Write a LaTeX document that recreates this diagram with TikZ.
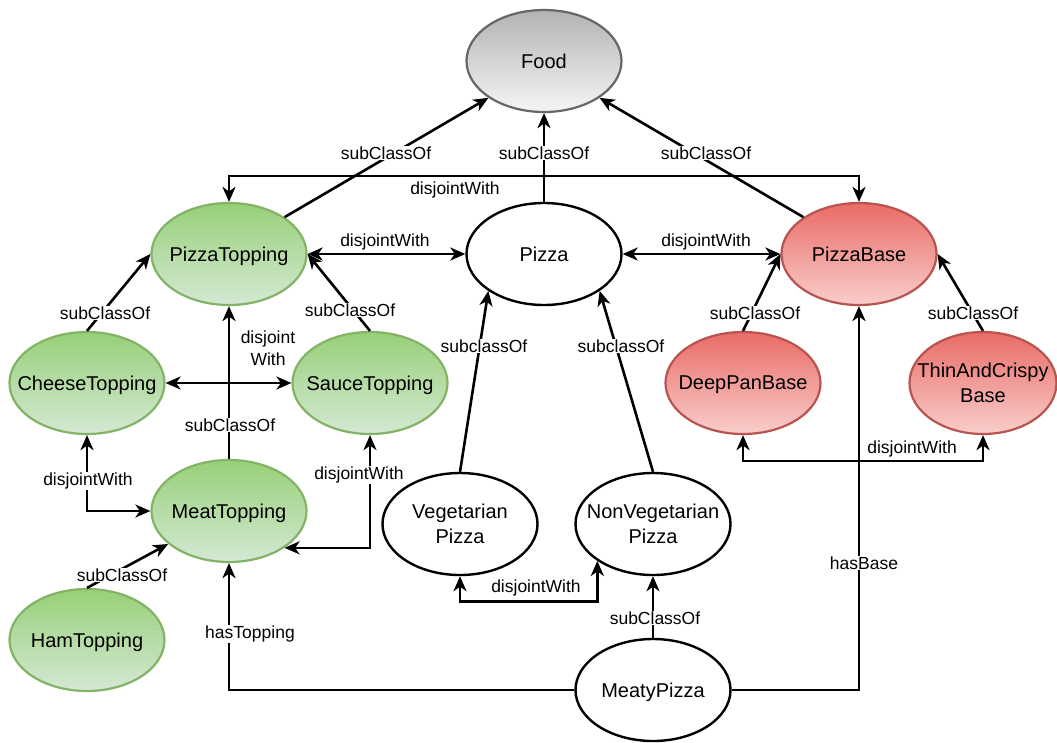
\documentclass[tikz,border=0pt]{standalone}
\usepackage{fontspec}
\setmainfont{Liberation Sans}
\usetikzlibrary{shapes.geometric,arrows.meta}

\definecolor{greenTop}{HTML}{97D077}
\definecolor{greenBot}{HTML}{D5E8D4}
\definecolor{greenEdge}{HTML}{82B366}
\definecolor{redTop}{HTML}{EA6B66}
\definecolor{redBot}{HTML}{F8CECC}
\definecolor{redEdge}{HTML}{B85450}
\definecolor{grayTop}{HTML}{B3B3B3}
\definecolor{grayBot}{HTML}{F5F5F5}
\definecolor{grayEdge}{HTML}{666666}

\begin{document}
\begin{tikzpicture}[x=1pt,y=-1pt,
  ent/.style={ellipse, minimum width=155pt, minimum height=102pt, inner sep=0pt},
  plainent/.style={ent, draw=black, fill=white, line width=2.4pt},
  greenent/.style={ent, draw=greenEdge, line width=2.2pt, top color=greenTop, bottom color=greenBot},
  redent/.style={ent, draw=redEdge, line width=2.2pt, top color=redTop, bottom color=redBot},
  grayent/.style={ent, draw=grayEdge, line width=2.2pt, top color=grayTop, bottom color=grayBot},
  ntext/.style={font=\fontsize{20}{25}\selectfont, align=center, inner sep=0pt, text depth=0pt, text=black},
  lbl/.style={font=\fontsize{17.5}{21}\selectfont, fill=white, inner sep=1pt, align=center},
  lblfree/.style={font=\fontsize{17.5}{21}\selectfont, inner sep=1pt, align=center},
  tip/.tip={Stealth[length=15pt,width=13pt,inset=4.5pt]},
  link/.style={line width=2.6pt, -tip},
  both/.style={line width=2.6pt, tip-tip}
]
% canvas
\fill[white] (0,0) rectangle (1057,742);
\useasboundingbox (0,0) rectangle (1057,742);

% classes
\node[grayent,  label={[ntext]center:Food}]          (Food)          at (544,61)  {};
\node[plainent, label={[ntext]center:Pizza}]         (Pizza)         at (544,254) {};
\node[greenent, label={[ntext]center:PizzaTopping}]  (PizzaTopping)  at (229,254) {};
\node[redent,   label={[ntext]center:PizzaBase}]     (PizzaBase)     at (859,254) {};
\node[greenent, label={[ntext]center:CheeseTopping}] (CheeseTopping) at (87,383)  {};
\node[greenent, label={[ntext]center:SauceTopping}]  (SauceTopping)  at (370,383) {};
\node[greenent, label={[ntext]center:MeatTopping}]   (MeatTopping)   at (229,511) {};
\node[greenent, label={[ntext]center:HamTopping}]    (HamTopping)    at (87,640)  {};
\node[redent,   label={[ntext]center:DeepPanBase}]   (DeepPanBase)   at (743,383) {};
\node[redent, minimum width=147pt, label={[ntext]center:ThinAndCrispy\\Base}] (ThinCrispyBase) at (983,383) {};
\node[plainent, label={[ntext]center:Vegetarian\\Pizza}]    (VegPizza)    at (460,524) {};
\node[plainent, label={[ntext]center:NonVegetarian\\Pizza}] (NonVegPizza) at (653,524) {};
\node[plainent, label={[ntext]center:MeatyPizza}]    (MeatyPizza)    at (653,690) {};

% relations
\draw[link] (PizzaTopping.north east) -- (Food.south west);
\draw[link] (Pizza.north) -- (Food.south);
\draw[link] (PizzaBase.north west) -- (Food.south east);
\draw[both] (PizzaTopping.north) -- ++(0,-26) -| (PizzaBase.north);
\draw[both] (PizzaTopping.east) -- (Pizza.west);
\draw[both] (Pizza.east) -- (PizzaBase.west);
\draw[link] (CheeseTopping.north) -- (PizzaTopping.west);
\draw[link] (SauceTopping.north) -- (PizzaTopping.east);
\draw[both] (CheeseTopping.east) -- (SauceTopping.west);
\draw[link] (MeatTopping.north) -- (PizzaTopping.south);
\draw[both] (CheeseTopping.south) |- (MeatTopping.west);
\draw[both] (SauceTopping.south) |- (MeatTopping.south east);
\draw[link] (HamTopping.north) -- (MeatTopping);
\draw[link] (MeatyPizza.west) -| (MeatTopping.south);
\draw[link] (MeatyPizza.east) -| (PizzaBase.south);
\draw[link] (MeatyPizza.north) -- (NonVegPizza.south);
\draw[both] (VegPizza.south) -- ++(0,25) -| (NonVegPizza.south west);
\draw[link] (VegPizza.north) -- (Pizza.south west);
\draw[link] (NonVegPizza.north) -- (Pizza.south east);
\draw[link] (DeepPanBase.north) -- (PizzaBase.west);
\draw[link] (ThinCrispyBase.north) -- (PizzaBase.east);
\draw[both] (DeepPanBase.south) -- ++(0,26) -| (ThinCrispyBase.south);

% relation labels
\node[lbl]     (lPTFood)   at (386,153) {subClassOf};
\node[lbl]     (lPFood)    at (544,153) {subClassOf};
\node[lbl]     (lPBFood)   at (706,153) {subClassOf};
\node[lblfree] (lPTPB)     at (455,190) {disjointWith};
\node[lblfree] (lPTP)      at (385,242) {disjointWith};
\node[lblfree] (lPPB)      at (706,242) {disjointWith};
\node[lbl]     (lCTPT)     at (105,313) {subClassOf};
\node[lbl]     (lSTPT)     at (350,310) {subClassOf};
\node[lblfree, font=\fontsize{17.5}{22}\selectfont] (lCTST) at (268,348) {disjoint\\With};
\node[lbl]     (lMTPT)     at (230,425) {subClassOf};
\node[lbl]     (lCTMT)     at (88,481)  {disjointWith};
\node[lbl]     (lSTMT)     at (359,475) {disjointWith};
\node[lbl]     (lHTMT)     at (122,575) {subClassOf};
\node[lbl]     (lMPMT)     at (250,634) {hasTopping};
\node[lbl]     (lVPP)      at (484,346) {subclassOf};
\node[lbl]     (lNVPP)     at (621,346) {subclassOf};
\node[lblfree] (lVPNVP)    at (536,588) {disjointWith};
\node[lbl]     (lMPNVP)    at (655,618) {subClassOf};
\node[lbl]     (lDPPB)     at (755,313) {subClassOf};
\node[lbl]     (lTCPB)     at (973,313) {subClassOf};
\node[lblfree] (lDPTC)     at (912,449) {disjointWith};
\node[lbl]     (lMPPB)     at (864,563) {hasBase};
\end{tikzpicture}
\end{document}
